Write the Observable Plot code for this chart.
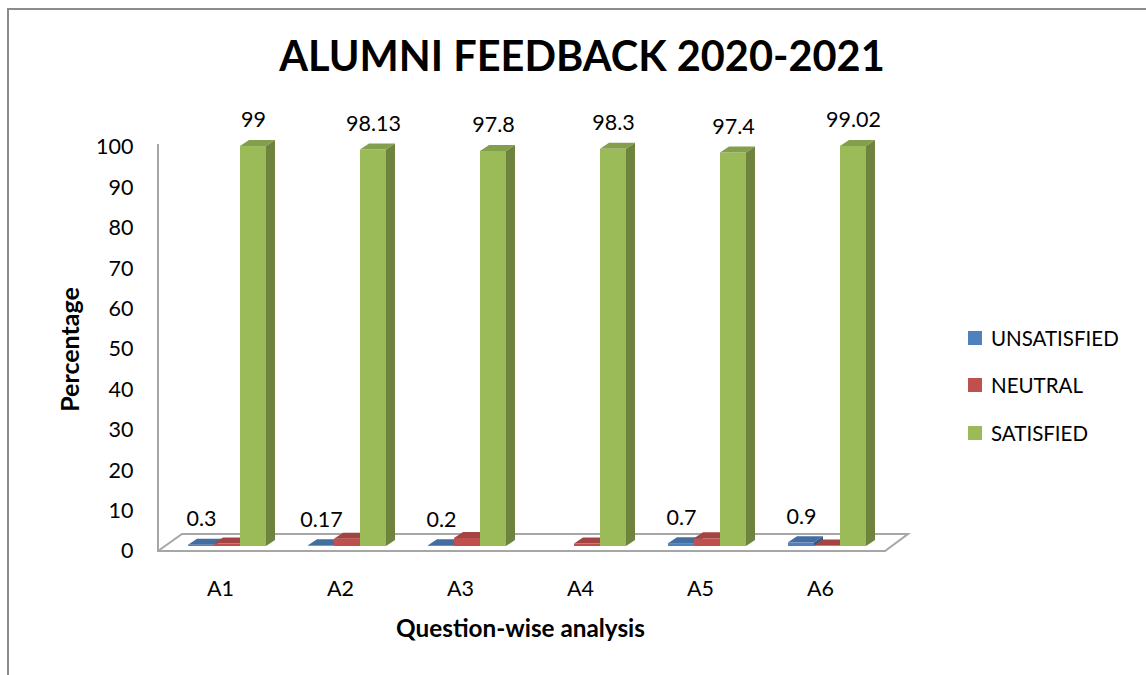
<!DOCTYPE html>
<html><head><meta charset="utf-8">
<script src="https://cdn.jsdelivr.net/npm/d3@7"></script>
<script src="https://cdn.jsdelivr.net/npm/@observablehq/plot@0.6"></script>
<style>
body{margin:0;background:#fff;font-family:Lato,"Open Sans",sans-serif;}
#wrap{position:relative;width:1146px;height:675px;overflow:hidden;background:#fff}
#border{position:absolute;left:7px;top:8px;width:1300px;height:800px;border-left:2px solid #8c8c8c;border-top:2px solid #8c8c8c;}
#title{position:absolute;left:9px;top:35px;width:1146px;text-align:center;font:bold 41.5px/41.5px Lato,sans-serif;color:#000;white-space:nowrap}
#chart{position:absolute;left:0;top:100px}
.lg{position:absolute;left:968px;height:24px;display:flex;align-items:center;font:20.5px Lato,sans-serif;color:#000;white-space:nowrap}
.lg span.sw{display:inline-block;width:14px;height:14px;margin-right:9px}
</style>
</head><body>
<div id="wrap">
  <div id="border"></div>
  <div id="title">ALUMNI FEEDBACK 2020-2021</div>
  <div id="chart"></div>
  <div id="legend"></div>
</div>
<script>
const questions = ["A1","A2","A3","A4","A5","A6"];
const seriesNames = ["UNSATISFIED","NEUTRAL","SATISFIED"];
const unsatisfied = [0.3, 0.17, 0.2, null, 0.7, 0.9];
const neutral = [0.6, 1.8, 2.0, 0.6, 1.9, 0.1];
const satisfied = [99, 98.13, 97.8, 98.3, 97.4, 99.02];
const seriesColors = ["#4F81BD","#C0504D","#9BBB59"];
const yTicks = [0,10,20,30,40,50,60,70,80,90,100];
const labelledSeries = ["UNSATISFIED","SATISFIED"];
const yTitle = "Percentage";
const xTitle = "Question-wise analysis";

const valuesBySeries = [unsatisfied, neutral, satisfied];
const data = questions.flatMap((q,i) => seriesNames.map((s,j) => ({q, s, v: valuesBySeries[j][i]})))
  .filter(d => d.v != null);

const plot = Plot.plot({
  width: 950, height: 575,
  marginLeft: 160, marginRight: 70, marginTop: 47, marginBottom: 124,
  style: {fontFamily: "Lato, sans-serif", fontSize: "21.5px", color: "#000", background: "transparent", overflow: "visible"},
  fx: {domain: questions, padding: 0, axis: "bottom", tickSize: 0, tickPadding: 29,
       label: xTitle, labelAnchor: "center", labelOffset: 85},
  x: {domain: seriesNames, paddingInner: 0, paddingOuter: 0.75, axis: null},
  y: {domain: [0,100], ticks: yTicks, tickSize: 0, tickPadding: 27,
      label: yTitle, labelAnchor: "center", labelOffset: 99},
  color: {domain: seriesNames, range: seriesColors},
  marks: [
    Plot.barY(data, {fx: "q", x: "s", y: "v", fill: "s", dx: 7, dy: -5, className: "bar3d"}),
    Plot.text(data.filter(d => labelledSeries.includes(d.s)),
      {fx: "q", x: "s", y: "v", text: d => String(d.v), dx: 7, dy: -31, fill: "#000"})
  ]
});
document.getElementById("chart").appendChild(plot);

// axis titles: bold, larger, no arrow
const titleSizes = {"y-axis label": "25px", "fx-axis label": "24.3px"};
d3.select(plot).selectAll('g[aria-label$="axis label"]').each(function() {
  const size = titleSizes[this.getAttribute("aria-label")] || "24px";
  d3.select(this).style("font-size", size).style("font-weight", "bold")
    .selectAll("text").style("font-weight", "bold").style("font-size", size)
    .text(function() { return this.textContent.replace(/\s*[↑→←↓]\s*/g, ""); });
});

// 3D faces for bars
const DX = 9, DY = 6;
d3.select(plot).selectAll("g.bar3d rect").each(function() {
  const r = this;
  const x = +r.getAttribute("x") || 0, y = +r.getAttribute("y") || 0;
  const w = +r.getAttribute("width") || 0, h = +r.getAttribute("height") || 0;
  const base = d3.color(r.getAttribute("fill") || getComputedStyle(r).fill);
  const top = document.createElementNS("http://www.w3.org/2000/svg", "path");
  top.setAttribute("d", `M${x},${y}L${x+w},${y}L${x+w+DX},${y-DY}L${x+DX},${y-DY}Z`);
  top.setAttribute("fill", base.darker(0.45).formatHex());
  const side = document.createElementNS("http://www.w3.org/2000/svg", "path");
  side.setAttribute("d", `M${x+w},${y}L${x+w+DX},${y-DY}L${x+w+DX},${y+h-DY}L${x+w},${y+h}Z`);
  side.setAttribute("fill", base.darker(1.0).formatHex());
  r.after(top);
  top.after(side);
});

// floor and wall from the scales
const ys = plot.scale("y"), fxs = plot.scale("fx");
const y0 = ys.apply(0), yTop = ys.apply(100);
const [fxa, fxb] = fxs.range;
const floor = d3.select(plot).insert("g", ":first-child")
  .attr("fill", "none").attr("stroke", "#a6a6a6").attr("stroke-width", 2);
floor.append("path").attr("d",
  `M${fxa-2},${yTop-3}L${fxa-2},${y0}L${fxb+5},${y0}L${fxb+28},${y0-17}L${fxa+22},${y0-17}L${fxa-2},${y0}`);

// legend
const leg = document.getElementById("legend");
const legY = [337.5, 385, 433];
seriesNames.forEach((s, i) => {
  const item = document.createElement("div");
  item.className = "lg";
  item.style.top = (legY[i] - 12) + "px";
  item.innerHTML = `<span class="sw" style="background:${seriesColors[i]}"></span>${s}`;
  leg.appendChild(item);
});
</script>
</body></html>
